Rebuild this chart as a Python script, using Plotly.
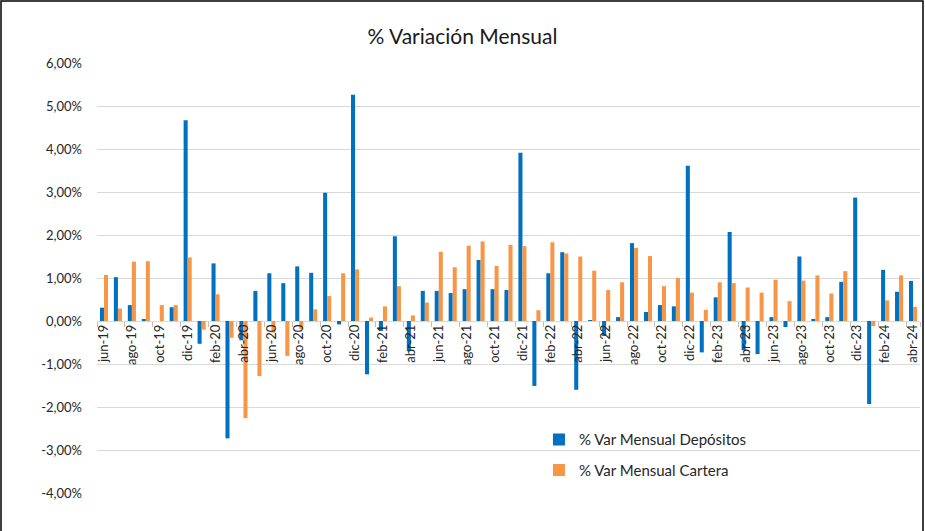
import plotly.graph_objects as go

meses = ["ene", "feb", "mar", "abr", "may", "jun", "jul", "ago", "sep", "oct", "nov", "dic"]
categorias = [f"{m}-19" for m in meses[5:]] + \
    [f"{m}-{y}" for y in ["20", "21", "22", "23"] for m in meses] + \
    [f"{m}-24" for m in meses[:4]]

depositos = [
    0.31, 1.02, 0.37, 0.04, 0.00, 0.32, 4.67,
    -0.53, 1.34, -2.73, -0.45, 0.70, 1.11, 0.88, 1.27, 1.12, 2.98, -0.08, 5.26,
    -1.24, -0.23, 1.97, -0.70, 0.70, 0.70, 0.65, 0.74, 1.42, 0.74, 0.72, 3.91,
    -1.51, 1.11, 1.60, -1.60, 0.02, -0.35, 0.09, 1.81, 0.21, 0.37, 0.34, 3.61,
    -0.73, 0.55, 2.07, -0.68, -0.77, 0.09, -0.14, 1.50, 0.04, 0.09, 0.91, 2.87,
    -1.93, 1.19, 0.68, 0.93,
]
cartera = [
    1.07, 0.29, 1.38, 1.39, 0.37, 0.37, 1.48,
    -0.20, 0.62, -0.39, -2.26, -1.28, -0.27, -0.81, -0.19, 0.27, 0.58, 1.11, 1.20,
    0.08, 0.34, 0.81, 0.13, 0.43, 1.61, 1.25, 1.75, 1.85, 1.28, 1.77, 1.74,
    0.25, 1.83, 1.57, 1.50, 1.17, 0.72, 0.90, 1.70, 1.51, 0.81, 1.00, 0.66,
    0.26, 0.90, 0.88, 0.78, 0.66, 0.96, 0.46, 0.94, 1.06, 0.64, 1.16, 0.00,
    -0.12, 0.48, 1.06, 0.33,
]
y_ticks = [-4, -3, -2, -1, 0, 1, 2, 3, 4, 5, 6]
y_ticktext = [f"{v},00%" for v in y_ticks]

fig = go.Figure()
fig.add_trace(go.Bar(x=categorias, y=[v / 100 for v in depositos],
                     name="% Var Mensual Depósitos", marker_color="#0070C0",
                     marker_line_width=0, legendgroup="a"))
fig.add_trace(go.Bar(x=categorias, y=[v / 100 for v in cartera],
                     name="% Var Mensual Cartera", marker_color="#F79646",
                     marker_line_width=0, legendgroup="b"))

L, R, T, B = 97, 5, 63, 38
W, H = 925, 531
pw, ph = W - L - R, H - T - B

fig.update_layout(
    width=W, height=H,
    margin=dict(l=L, r=R, t=T, b=B, pad=0),
    paper_bgcolor="white", plot_bgcolor="white",
    separators=",.",
    barmode="group", bargap=0.42, bargroupgap=0,
    font=dict(family="Lato, Open Sans, sans-serif", color="#262626", size=13),
    title=dict(text="% Variación Mensual", x=0.5, xanchor="center", y=1 - 37 / H,
               yanchor="middle", font=dict(size=21, color="#1a1a1a")),
    legend=dict(x=0.537, y=0.162, xanchor="left", yanchor="top",
                bgcolor="rgba(0,0,0,0)", font=dict(size=15, color="#262626"),
                itemwidth=30, tracegroupgap=8),
    xaxis=dict(type="category", tickmode="array", tickvals=categorias[::2],
               ticktext=categorias[::2], tickangle=-90, tickson="boundaries",
               ticks="outside", ticklen=5, tickcolor="#bfbfbf",
               showgrid=False, showline=False, zeroline=False,
               anchor="free", position=4 / 10, tickfont=dict(size=13),
               range=[-0.5, len(categorias) - 0.5]),
    yaxis=dict(range=[-0.04, 0.06], tickmode="array",
               tickvals=[v / 100 for v in y_ticks], ticktext=y_ticktext,
               showgrid=True, gridcolor="#d9d9d9",
               gridwidth=1, zeroline=True, zerolinecolor="#d9d9d9",
               zerolinewidth=1, showline=False, ticks="", ticklabelstandoff=14,
               tickfont=dict(size=13)),
)

fig.add_shape(type="rect", xref="paper", yref="paper",
              x0=(-L + 1) / pw, x1=(W - L - 2) / pw,
              y0=(-B - 2) / ph, y1=(ph + T - 1) / ph,
              line=dict(color="#000000", width=1.5), fillcolor="rgba(0,0,0,0)",
              layer="above")

fig.write_html("out.html", config={"displayModeBar": False},
               post_script="document.body.style.margin='0';document.body.style.overflow='hidden';")
